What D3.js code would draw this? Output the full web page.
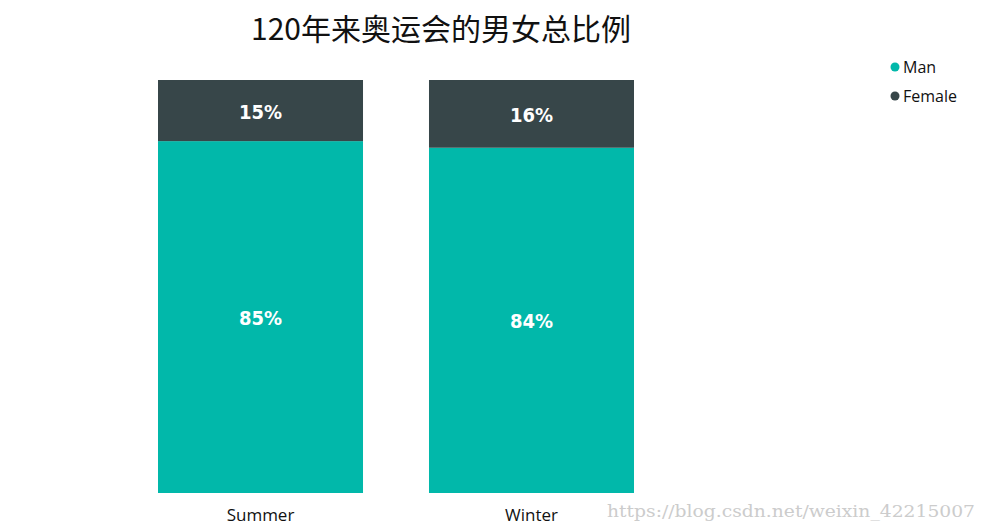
<!DOCTYPE html>
<html>
<head>
<meta charset="utf-8">
<script src="https://cdn.jsdelivr.net/npm/d3@7"></script>
<style>
  body { margin: 0; padding: 0; background: #fff; }
  svg { display: block; }
</style>
</head>
<body>
<div id="chart"></div>
<script>
// data
var categories = ["Summer", "Winter"];
var series = ["Man", "Female"];
var manShare = [0.852, 0.836];
var femaleShare = [0.148, 0.164];
var colors = ["#01B8AA", "#374649"];

var width = 986, height = 530;
var margin = {top: 80, right: 319, bottom: 37, left: 125};

var svg = d3.select("#chart").append("svg")
  .attr("width", width)
  .attr("height", height);

// title
svg.append("text")
  .attr("x", 441).attr("y", 40)
  .attr("text-anchor", "middle")
  .style("font-family", "'Noto Sans CJK SC', sans-serif")
  .style("font-size", "30px")
  .style("fill", "#111")
  .text("120年来奥运会的男女总比例");

var x = d3.scaleBand()
  .domain(categories)
  .range([margin.left, width - margin.right])
  .paddingInner(0.2435)
  .paddingOuter(0.1218);

var y = d3.scaleLinear()
  .domain([0, 1])
  .range([height - margin.bottom, margin.top]);

// stack the two series
var rows = categories.map(function(c, i) {
  return {cat: c, Man: manShare[i], Female: femaleShare[i]};
});
var stacked = d3.stack().keys(series)(rows);

var g = svg.append("g");

var layer = g.selectAll("g.layer")
  .data(stacked)
  .enter().append("g")
  .attr("class", "layer")
  .attr("fill", function(d, i) { return colors[i]; });

layer.selectAll("rect")
  .data(function(d) { return d; })
  .enter().append("rect")
  .attr("x", function(d) { return x(d.data.cat); })
  .attr("width", x.bandwidth())
  .attr("y", function(d) { return y(d[1]); })
  .attr("height", function(d) { return y(d[0]) - y(d[1]); });

// data labels
layer.selectAll("text")
  .data(function(d) { return d; })
  .enter().append("text")
  .attr("x", function(d) { return x(d.data.cat) + x.bandwidth() / 2; })
  .attr("y", function(d) { return (y(d[0]) + y(d[1])) / 2; })
  .attr("dy", "0.4em")
  .attr("text-anchor", "middle")
  .style("font-family", "'DejaVu Sans Condensed', 'DejaVu Sans', sans-serif")
  .style("font-weight", "bold")
  .style("font-size", "20px")
  .style("fill", "#fff")
  .text(function(d) { return Math.round((d[1] - d[0]) * 100) + "%"; });

// x axis, labels only
var xAxis = svg.append("g")
  .attr("transform", "translate(0," + (height - margin.bottom) + ")")
  .call(d3.axisBottom(x).tickSize(0).tickPadding(16));
xAxis.select(".domain").remove();
xAxis.selectAll("text")
  .style("font-family", "'Open Sans', sans-serif")
  .style("font-size", "17px")
  .style("fill", "#111");

// legend
var legend = svg.append("g").attr("transform", "translate(895,67)");
series.forEach(function(s, i) {
  var row = legend.append("g").attr("transform", "translate(0," + (i * 29) + ")");
  row.append("circle").attr("r", 4.5).attr("fill", colors[i]);
  row.append("text")
    .attr("x", 8).attr("dy", "0.35em")
    .style("font-family", "'Open Sans', sans-serif")
    .style("font-size", "16px")
    .style("fill", "#111")
    .text(s);
});

// watermark
svg.append("text")
  .attr("x", 607).attr("y", 517)
  .attr("textLength", 368)
  .attr("lengthAdjust", "spacingAndGlyphs")
  .style("font-family", "'DejaVu Serif', serif")
  .style("font-size", "17px")
  .style("fill", "#ccc")
  .text("https://blog.csdn.net/weixin_42215007");
</script>
</body>
</html>
